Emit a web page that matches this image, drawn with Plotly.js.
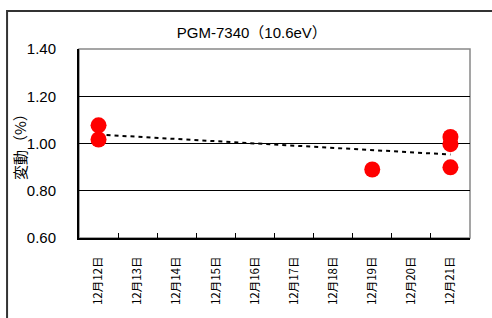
<!DOCTYPE html>
<html>
<head>
<meta charset="utf-8">
<script src="https://cdn.plot.ly/plotly-3.0.1.min.js"></script>
<style>
html,body{margin:0;padding:0;background:#fff;}
#chart{width:492px;height:318px;}
</style>
</head>
<body>
<div id="chart"></div>
<script>
// Categories (x axis)
const categories = ['12月12日','12月13日','12月14日','12月15日','12月16日','12月17日','12月18日','12月19日','12月20日','12月21日'];
// Measured points
const pointDates = ['12月12日','12月12日','12月19日','12月21日','12月21日','12月21日'];
const pointValues = [1.077, 1.017, 0.890, 1.028, 0.997, 0.899];
// Y axis ticks
const yTicks = [0.60, 0.80, 1.00, 1.20, 1.40];
const yTickText = ['0.60','0.80','1.00','1.20','1.40'];
const yTitle = '変動（%）';
const chartTitle = 'PGM-7340（10.6eV）';

// Linear trend line (least squares over category index), like a spreadsheet trendline
const xi = pointDates.map(d => categories.indexOf(d));
const n = xi.length;
const mx = xi.reduce((a,b)=>a+b,0)/n;
const my = pointValues.reduce((a,b)=>a+b,0)/n;
let sxy = 0, sxx = 0;
for (let i=0;i<n;i++){ sxy += (xi[i]-mx)*(pointValues[i]-my); sxx += (xi[i]-mx)*(xi[i]-mx); }
const slope = sxy/sxx, intercept = my - slope*mx;
const trendX = [categories[0], categories[categories.length-1]];
const trendY = [intercept, intercept + slope*(categories.length-1)];

const fontMain = '"Liberation Sans", Arial, "Noto Sans CJK JP", sans-serif';
const fontJP = '"Noto Sans CJK JP", "Liberation Sans", sans-serif';

const data = [
  {
    x: trendX, y: trendY, type: 'scatter', mode: 'lines',
    line: {color: '#000', width: 2, dash: '4px,4px'},
    hoverinfo: 'skip', showlegend: false
  },
  {
    x: pointDates, y: pointValues, type: 'scatter', mode: 'markers',
    marker: {color: '#FF0000', size: 16, line: {width: 0}},
    showlegend: false
  }
];

const layout = {
  width: 492, height: 318,
  margin: {l: 79, r: 22, t: 49, b: 80},
  paper_bgcolor: '#fff', plot_bgcolor: '#fff',
  showlegend: false,
  font: {family: fontMain, color: '#000'},
  title: {
    text: chartTitle,
    font: {size: 15, family: fontMain, color: '#000'},
    x: 0.442, xref: 'paper', xanchor: 'center',
    y: 0.896, yref: 'container', yanchor: 'middle'
  },
  xaxis: {
    type: 'category',
    categoryorder: 'array', categoryarray: categories,
    range: [-0.5, categories.length - 0.5],
    tickmode: 'array', tickvals: categories, ticktext: categories,
    tickangle: -90,
    tickson: 'boundaries',
    ticks: 'inside', ticklen: 5, tickcolor: '#000', tickwidth: 1,
    ticklabelstandoff: 12,
    tickfont: {size: 11.5, family: fontJP, color: '#000'},
    showline: true, linecolor: '#000', linewidth: 2,
    showgrid: false, zeroline: false, fixedrange: true
  },
  yaxis: {
    range: [0.6, 1.4],
    tickmode: 'array', tickvals: yTicks, ticktext: yTickText,
    ticks: '', ticklabelstandoff: 18,
    tickfont: {size: 15, family: fontMain, color: '#000'},
    showline: true, linecolor: '#000', linewidth: 2,
    showgrid: true, gridcolor: '#000', gridwidth: 1,
    zeroline: false, fixedrange: true
  },
  annotations: [
    {text: yTitle, xref: 'paper', yref: 'paper', x: -0.152, y: 0.5,
     xanchor: 'center', yanchor: 'middle', textangle: -90, showarrow: false,
     font: {size: 15, family: fontJP, color: '#000'}}
  ],
  shapes: [
    {type: 'rect', xref: 'paper', yref: 'paper', x0: 0, x1: 1, y0: 0, y1: 1,
     line: {color: '#888', width: 1.5}, layer: 'below'},
    {type: 'rect', xref: 'paper', yref: 'paper', x0: -0.184, x1: 1.2, y0: -1, y1: 1.201,
     line: {color: '#333', width: 2}, fillcolor: 'rgba(0,0,0,0)', layer: 'below'}
  ]
};

Plotly.newPlot('chart', data, layout, {displayModeBar: false, staticPlot: true});
</script>
</body>
</html>
